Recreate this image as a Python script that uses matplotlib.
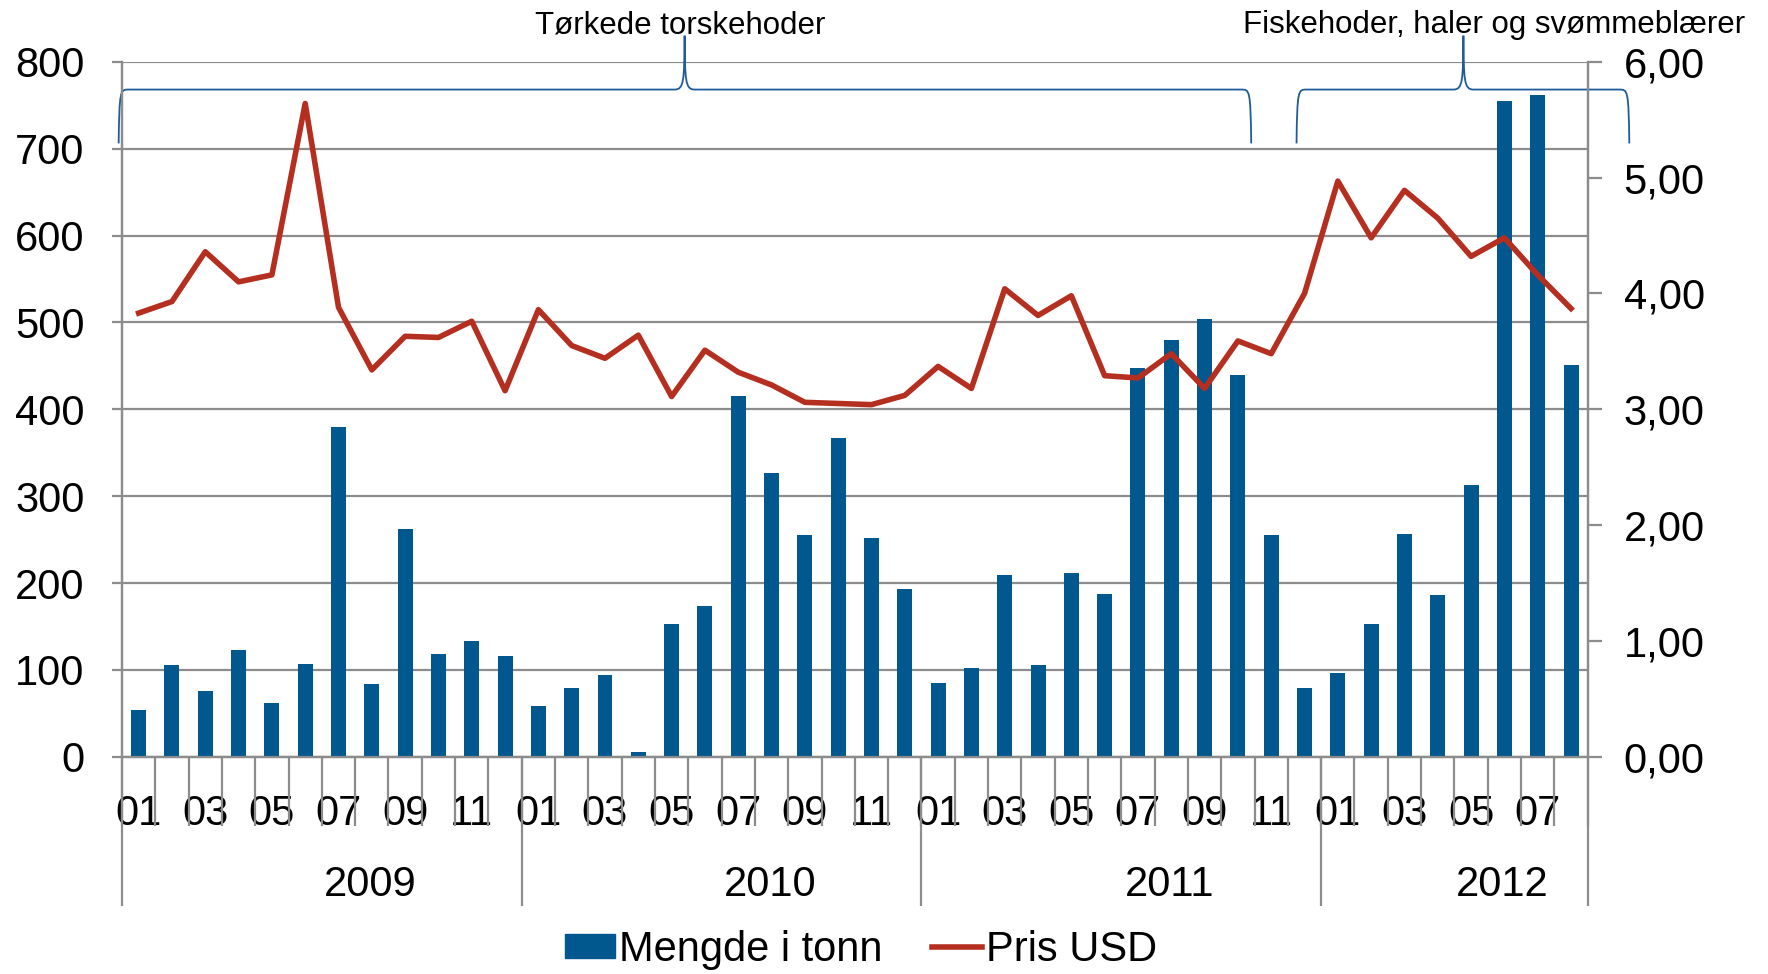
import numpy as np
import matplotlib
matplotlib.use("Agg")
import matplotlib.pyplot as plt
from matplotlib.path import Path
from matplotlib.patches import PathPatch
from matplotlib.lines import Line2D
from matplotlib.patches import Patch
import matplotlib.transforms as mtransforms

plt.rcParams['font.family'] = ['Liberation Sans', 'DejaVu Sans']

# data: monthly values 2009-01 .. 2012-08
years = ['2009', '2010', '2011', '2012']
months_per_year = [12, 12, 12, 8]
month_labels = ['01', '03', '05', '07', '09', '11']

mengde = [54, 106, 76, 123, 62, 107, 380, 84, 262, 118, 133, 116,
          58, 79, 94, 6, 153, 174, 415, 327, 255, 367, 252, 193,
          85, 102, 209, 106, 211, 187, 448, 480, 504, 439, 255, 79,
          97, 153, 256, 186, 313, 755, 762, 451]

pris = [3.83, 3.93, 4.36, 4.10, 4.16, 5.64, 3.88, 3.34, 3.63, 3.62, 3.76, 3.16,
        3.86, 3.55, 3.44, 3.64, 3.11, 3.51, 3.32, 3.21, 3.06, 3.05, 3.04, 3.12,
        3.37, 3.18, 4.04, 3.81, 3.98, 3.29, 3.27, 3.48, 3.18, 3.59, 3.48, 4.00,
        4.97, 4.48, 4.89, 4.65, 4.32, 4.48, 4.16, 3.87]

bar_color = '#00588E'
line_color = '#B52F20'
grid_color = '#8C8C8C'
brace_color = '#1F5C99'

n = len(mengde)
x = np.arange(n)

fig = plt.figure(figsize=(17.68, 9.74), dpi=100)
ax = fig.add_axes([0.069, 0.223, 0.829, 0.7136])
ax2 = ax.twinx()

ax.bar(x, mengde, width=0.45, color=bar_color, zorder=3)
ax2.plot(x, pris, color=line_color, lw=4, zorder=4)

# left axis
ax.set_ylim(0, 800)
ax.set_yticks(np.arange(0, 801, 100))
ax.set_xlim(-0.5, n - 0.5)
ax.yaxis.grid(True, color=grid_color, lw=1.6, zorder=0)
ax.set_axisbelow(True)
ax.tick_params(axis='y', which='major', labelsize=30, direction='out',
               length=7, width=1.6, color=grid_color, pad=20)

# right axis
ax2.set_ylim(0, 6)
ax2.set_yticks(np.arange(0, 7, 1))
ax2.set_yticklabels(['%d,00' % v for v in range(7)])
ax2.tick_params(axis='y', labelsize=30, direction='out', length=10,
                width=1.6, color=grid_color, pad=16)

for a in (ax, ax2):
    a.spines['top'].set_visible(False)
    for s in ('left', 'right', 'bottom'):
        a.spines[s].set_color(grid_color)
        a.spines[s].set_linewidth(1.6)

# category x axis: month labels + month separators
start = 0
label_pos, label_txt = [], []
for yr, cnt in zip(years, months_per_year):
    for m in range(cnt):
        lab = '%02d' % (m + 1)
        if lab in month_labels:
            label_pos.append(start + m)
            label_txt.append(lab)
    start += cnt
ax.set_xticks(label_pos)
ax.set_xticklabels(label_txt)
ax.set_xticks(np.arange(-0.5, n, 1.0), minor=True)
ax.tick_params(axis='x', which='major', length=0, labelsize=30, pad=27)
ax.tick_params(axis='x', which='minor', length=50, width=1.6,
               color=grid_color, direction='out')

# year separators and labels
trans = mtransforms.blended_transform_factory(ax.transData, ax.transAxes)
bounds = np.concatenate([[0], np.cumsum(months_per_year)]) - 0.5
ax.vlines(bounds, -0.214, 0, transform=trans, color=grid_color, lw=1.6,
          clip_on=False)
for i, yr in enumerate(years):
    ax.text((bounds[i] + bounds[i + 1]) / 2 + 1.45, -0.185, yr,
            transform=trans, ha='center', va='center', fontsize=30)


# curly braces above the plot
def brace(x0, x1, xm, yb, ybar, ypk, dx=0.3, dm=0.3):
    verts = [(x0, yb), (x0 + 0.02, ybar), (x0 + 0.05, ybar), (x0 + dx, ybar),
             (xm - dm, ybar),
             (xm - 0.02, ybar), (xm - 0.01, ybar + 10), (xm, ypk),
             (xm + 0.01, ybar + 10), (xm + 0.02, ybar), (xm + dm, ybar),
             (x1 - dx, ybar),
             (x1 - 0.05, ybar), (x1 - 0.02, ybar), (x1, yb)]
    codes = [Path.MOVETO, Path.CURVE4, Path.CURVE4, Path.CURVE4,
             Path.LINETO,
             Path.CURVE4, Path.CURVE4, Path.CURVE4,
             Path.CURVE4, Path.CURVE4, Path.CURVE4,
             Path.LINETO,
             Path.CURVE4, Path.CURVE4, Path.CURVE4]
    p = PathPatch(Path(verts, codes), fill=False, ec=brace_color, lw=1.3,
                  clip_on=False, zorder=5)
    ax.add_patch(p)


brace(-0.6, 33.4, 16.39, 706, 768, 830)
brace(34.76, 44.75, 39.77, 706, 768, 830)
ax.text(16.27, 842, 'Tørkede torskehoder', ha='center', va='center',
        fontsize=22.5, clip_on=False)
ax.text(40.7, 842, 'Fiskehoder, haler og svømmeblærer', ha='center',
        va='center', fontsize=22.5, clip_on=False)

# legend
handles = [Patch(color=bar_color), Line2D([0], [0], color=line_color, lw=4)]
fig.legend(handles, ['Mengde i tonn', 'Pris USD'], loc='center',
           bbox_to_anchor=(0.487, 0.025), ncol=2, frameon=False, fontsize=30,
           handlelength=1.2, handleheight=0.5, handletextpad=0.1,
           columnspacing=1.2)

fig.savefig('out.png', dpi=100)
